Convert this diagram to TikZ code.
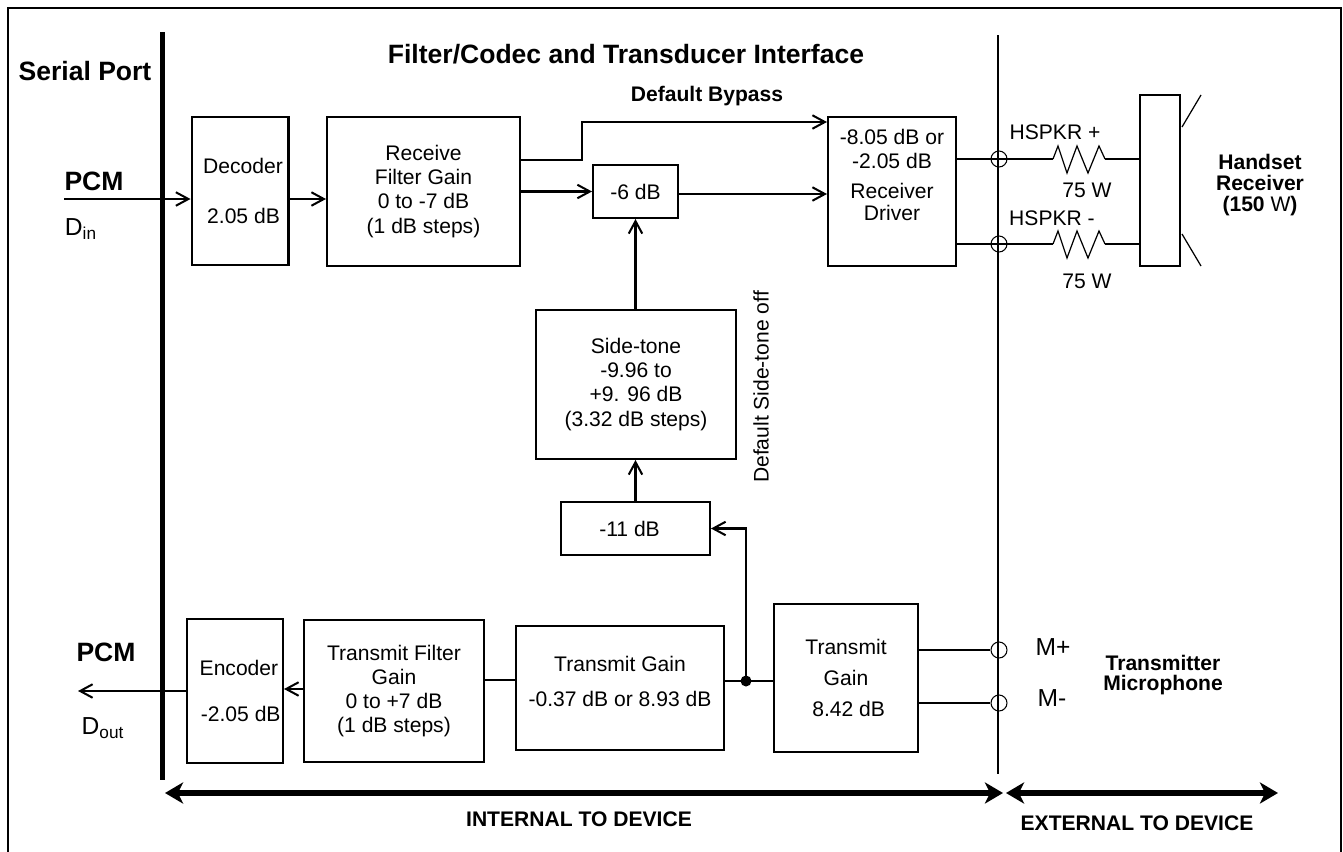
\documentclass[tikz,border=0pt]{standalone}
\usepackage{fontspec}
\setmainfont{Liberation Sans}
\usetikzlibrary{arrows.meta,positioning}

\tikzset{
    box/.style={draw=black, line width=1.15pt, inner sep=0pt, align=center, font=\fontsize{12}{13.7}\selectfont},
    wire/.style={line width=1.15pt},
    bigarrow/.style={line width=3.4pt, {Stealth[length=0.36cm,width=0.42cm,inset=0.1cm]}-{Stealth[length=0.36cm,width=0.42cm,inset=0.1cm]}},
    thintext/.style={font=\fontsize{12}{13.7}\selectfont, inner sep=0pt, align=center},
    boldtext/.style={font=\fontsize{12}{12}\selectfont\bfseries, inner sep=0pt, align=center},
    headtext/.style={font=\fontsize{15.1}{15}\selectfont\bfseries, inner sep=0pt},
    jack/.style={circle, draw=black, line width=0.6pt, minimum size=0.32cm, inner sep=0pt},
}

\begin{document}
\begin{tikzpicture}[x=0.02cm, y=-0.02cm, >={Straight Barb[length=0.25cm,width=0.27cm]}]
    \useasboundingbox (0,0) rectangle (1343,852);

    % Frame and device borders
    \draw[wire] (8,852) -- (8,8) -- (1341,8) -- (1341,852);
    \draw[line width=2.8pt] (162.5,32) -- (162.5,780);
    \draw[wire] (998,35) -- (998,774);

    % Headings
    \node[headtext] (serialport) at (85,71) {Serial Port};
    \node[headtext] (title) at (626,54) {Filter/Codec and Transducer Interface};
    \node[boldtext] (bypasstext) at (707,96) {Default Bypass};

    % Receive path
    \node[box, minimum width=1.94cm, minimum height=2.96cm] (decoder) at (240,191) {\hspace*{3.4pt}Decoder\\[14.6pt]\hspace*{4pt}2.05 dB};
    \node[box, minimum width=3.86cm, minimum height=2.98cm] (recvfilter) at (423.5,191.5) {Receive\\Filter Gain\\0 to -7 dB\\(1 dB steps)};
    \node[box, minimum width=1.70cm, minimum height=1.06cm] (sixdb) at (635.5,191.5) {-6 dB};
    \node[box, minimum width=2.56cm, minimum height=2.98cm] (driver) at (892,191.5) {-8.05 dB or\\-2.05 dB\\[3.3pt]Receiver\\[-1.2pt]Driver\\[5.5pt]\mbox{}};

    % Side-tone path
    \node[box, minimum width=4.00cm, minimum height=2.98cm] (sidetone) at (636,384.5) {Side-tone\\-9.96 to\\+9. 96 dB\\(3.32 dB steps)};
    \node[box, minimum width=2.98cm, minimum height=1.06cm] (elevendb) at (635.5,528.5) {-11 dB\hspace*{6.8pt}};
    \node[thintext, rotate=90] (sidetext) at (761,387) {Default Side-tone off};

    % Transmit path
    \node[box, minimum width=1.92cm, minimum height=2.88cm] (encoder) at (235,691) {\hspace*{4.5pt}Encoder\\[13pt]\hspace*{6.5pt}-2.05 dB};
    \node[box, minimum width=3.60cm, minimum height=2.84cm] (txfilter) at (394,691) {Transmit Filter\\Gain\\0 to +7 dB\\(1 dB steps)};
    \node[box, minimum width=4.16cm, minimum height=2.48cm] (txgain) at (620,688) {Transmit Gain\\[6.5pt]-0.37 dB or 8.93 dB\\[-6pt]\mbox{}};
    \node[box, minimum width=2.88cm, minimum height=2.96cm] (micgain) at (846,678) {Transmit\\[4pt]Gain\\[4pt]\hspace*{3pt}8.42 dB};

    % Handset
    \node[box, minimum width=0.80cm, minimum height=3.42cm] (handset) at (1160,180.5) {};
    \draw[line width=0.7pt] (1182,127) -- (1201,95);
    \draw[line width=0.7pt] (1182,234) -- (1201,266);
    \node[boldtext] (handsettext) at (1260,185) {Handset\\Receiver\\(150 {\mdseries W})};

    % Jacks on the device border
    \node[jack] (hspkp) at (999,159) {};
    \node[jack] (hspkm) at (999,244) {};
    \node[jack] (micp) at (999,650) {};
    \node[jack] (micm) at (999,703) {};
    \node[thintext] (hspkptext) at (1055,132) {HSPKR +};
    \node[thintext] (hspkmtext) at (1052,218) {HSPKR -};
    \node[thintext] (rptext) at (1087,190) {75 W};
    \node[thintext] (rmtext) at (1087,281) {75 W};
    \node[headtext, font=\fontsize{14}{14}\selectfont] (mptext) at (1053,647) {M+};
    \node[headtext, font=\fontsize{14}{14}\selectfont] (mmtext) at (1052,698) {M-};
    \node[boldtext] (mictext) at (1163,675) {Transmitter\\[-1pt]Microphone};

    % Resistors
    \foreach \rname/\ry in {hspkp/159,hspkm/244} {
        \coordinate (\rname a) at (1053,\ry);
        \coordinate (\rname b) at (1105,\ry);
        \draw[wire] (driver.east |- \rname) -- (\rname.center) -- (\rname a);
        \draw[line width=0.7pt] (\rname a) -- ++(5,-13) -- ++(9,27) -- ++(10,-27) -- ++(11,27) -- ++(11,-27) -- (\rname b);
        \draw[wire] (\rname b) -- (handset.west |- \rname);
    }

    % Serial port signals
    \node[headtext] (pcmin) at (94,181) {PCM};
    \node[thintext, font=\fontsize{14}{14}\selectfont] (dintext) at (81,229) {D\textsubscript{in}};
    \node[headtext] (pcmout) at (106,652) {PCM};
    \node[thintext, font=\fontsize{14}{14}\selectfont] (douttext) at (103,728) {D\textsubscript{out}};
    \coordinate (din) at (64,199);
    \coordinate (dout) at (78,691);

    % Connectors
    \draw[wire,->] (din) -- (din -| decoder.west);
    \draw[wire,->] (din -| decoder.east) -- (din -| recvfilter.west);
    \coordinate (bypass) at (582,122);
    \draw[wire,->] (recvfilter.east |- 0,160) -| (bypass) -- (bypass -| driver.west);
    \draw[wire,->] (recvfilter.east |- sixdb) -- (sixdb.west);
    \draw[wire,->] (sixdb.east |- 0,194) -- (driver.west |- 0,194);
    \draw[wire,->] (sidetone.north -| sixdb) -- (sixdb.south);
    \draw[wire,->] (elevendb.north) -- (elevendb.north |- sidetone.south);
    \node[circle, fill=black, minimum size=0.22cm, inner sep=0pt] (tap) at (746,681) {};
    \draw[wire,->] (tap.center) |- (elevendb.east);
    \draw[wire] (micgain.west |- tap) -- (tap.center) -- (txgain.east |- tap);
    \draw[wire] (txgain.west |- 0,680) -- (txfilter.east |- 0,680);
    \draw[wire,->] (txfilter.west |- 0,689) -- (encoder.east |- 0,689);
    \draw[wire,->] (encoder.west) -- (dout);
    \draw[wire] (micgain.east |- micp) -- (micp.west);
    \draw[wire] (micgain.east |- micm) -- (micm.west);

    % Internal and external extents
    \coordinate (intl) at (165,793);
    \coordinate (intr) at (1003,793);
    \coordinate (extl) at (1006,793);
    \coordinate (extr) at (1278,793);
    \draw[bigarrow] (intl) -- (intr);
    \draw[bigarrow] (extl) -- (extr);
    \node[boldtext] (inttext) at (579,819) {INTERNAL TO DEVICE};
    \node[boldtext] (exttext) at (1137,823) {EXTERNAL TO DEVICE};
\end{tikzpicture}
\end{document}
